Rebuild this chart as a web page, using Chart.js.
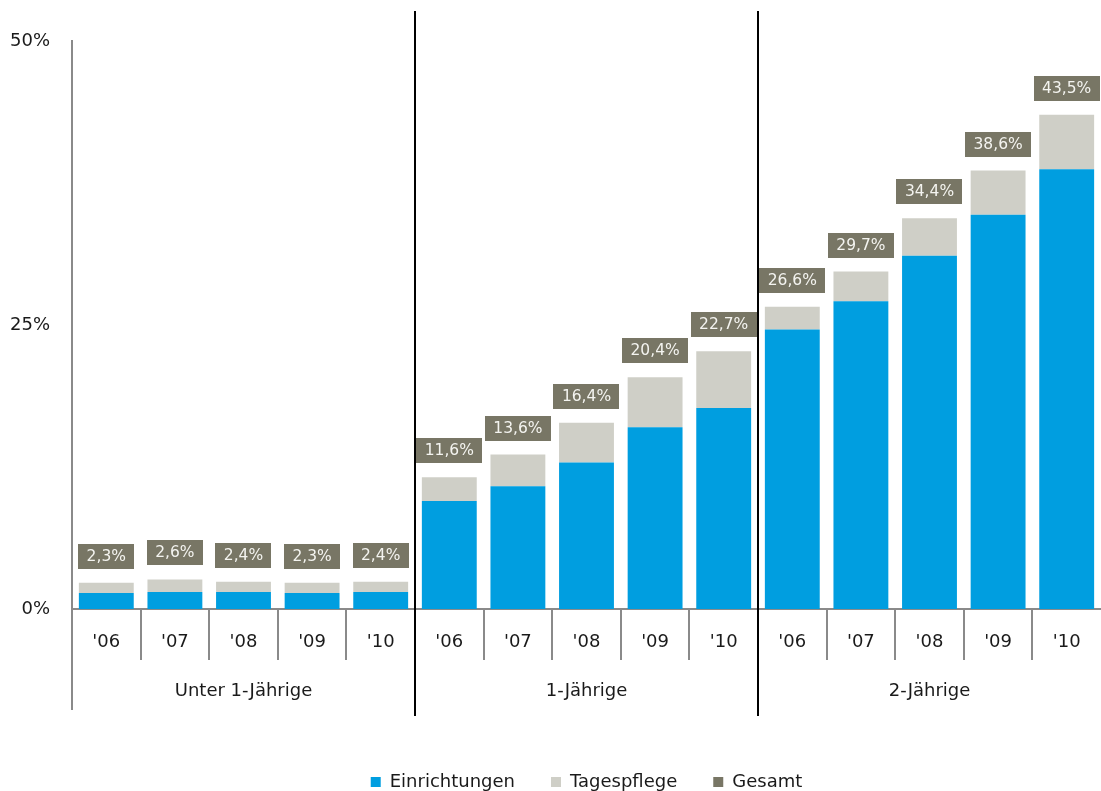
<!DOCTYPE html>
<html>
<head>
<meta charset="utf-8">
<script src="https://cdn.jsdelivr.net/npm/chart.js@4.4.1/dist/chart.umd.min.js"></script>
<style>
  html, body { margin: 0; padding: 0; background: #fff; }
  #wrap { width: 1101px; height: 791px; }
</style>
</head>
<body>
<div id="wrap"><canvas id="chart"></canvas></div>
<script>
// Data
const years = ["'06", "'07", "'08", "'09", "'10", "'06", "'07", "'08", "'09", "'10", "'06", "'07", "'08", "'09", "'10"];
const groups = ['Unter 1-Jährige', '1-Jährige', '2-Jährige'];
const einrichtungen = [1.4, 1.5, 1.5, 1.4, 1.5, 9.5, 10.8, 12.9, 16.0, 17.7, 24.6, 27.1, 31.1, 34.7, 38.7];
const tagespflege = [0.9, 1.1, 0.9, 0.9, 0.9, 2.1, 2.8, 3.5, 4.4, 5.0, 2.0, 2.6, 3.3, 3.9, 4.8];
const gesamt = [2.3, 2.6, 2.4, 2.3, 2.4, 11.6, 13.6, 16.4, 20.4, 22.7, 26.6, 29.7, 34.4, 38.6, 43.5];
const yTicks = [0, 25, 50];

const BLUE = '#009ee0';
const LIGHT = '#cfcfc7';
const OLIVE = '#787665';
const AXIS = '#8a8a8a';
const FONT = '"DejaVu Sans", Verdana, sans-serif';

// Draws the grouped axis, dividers and total labels
const groupPlugin = {
    id: 'groupAxis',
    afterDraw(chart) {
        const ctx = chart.ctx;
        const x = chart.scales.x;
        const y = chart.scales.y;
        const area = chart.chartArea;
        const half = (x.getPixelForValue(1) - x.getPixelForValue(0)) / 2;

        ctx.save();
        // year separators
        ctx.strokeStyle = AXIS;
        ctx.lineWidth = 2;
        for (let i = 1; i < years.length; i++) {
            if (i % 5 === 0) continue;
            const px = Math.round(x.getPixelForValue(i) - half);
            ctx.beginPath();
            ctx.moveTo(px, area.bottom);
            ctx.lineTo(px, area.bottom + 51);
            ctx.stroke();
        }
        // y axis extension
        ctx.beginPath();
        ctx.moveTo(area.left, area.bottom);
        ctx.lineTo(area.left, area.bottom + 101);
        ctx.stroke();

        // group dividers
        ctx.strokeStyle = '#000';
        ctx.lineWidth = 2;
        [5, 10].forEach(function (i) {
            const px = Math.round(x.getPixelForValue(i) - half);
            ctx.beginPath();
            ctx.moveTo(px, 11);
            ctx.lineTo(px, area.bottom + 107);
            ctx.stroke();
        });

        // group labels
        ctx.fillStyle = '#1a1a1a';
        ctx.font = '18px ' + FONT;
        ctx.textAlign = 'center';
        ctx.textBaseline = 'middle';
        groups.forEach(function (g, k) {
            const cx = (x.getPixelForValue(k * 5) + x.getPixelForValue(k * 5 + 4)) / 2;
            ctx.fillText(g, cx, area.bottom + 82);
        });

        // total labels
        ctx.font = '15.5px ' + FONT;
        gesamt.forEach(function (v, i) {
            const txt = v.toFixed(1).replace('.', ',') + '%';
            const w = ctx.measureText(txt).width + 17;
            const cx = x.getPixelForValue(i);
            const bottom = y.getPixelForValue(v) - 14;
            ctx.fillStyle = OLIVE;
            ctx.fillRect(Math.round(cx - w / 2), Math.round(bottom - 25), Math.round(w), 25);
            ctx.fillStyle = '#f4f4f0';
            ctx.fillText(txt, cx, bottom - 12);
        });
        ctx.restore();
    }
};

const ctx = document.getElementById('chart').getContext('2d');
new Chart(ctx, {
    type: 'bar',
    data: {
        labels: years,
        datasets: [{
            label: 'Einrichtungen',
            data: einrichtungen,
            backgroundColor: BLUE,
            borderWidth: 0
        }, {
            label: 'Tagespflege',
            data: tagespflege,
            backgroundColor: LIGHT,
            borderWidth: 0
        }, {
            label: 'Gesamt',
            data: [],
            backgroundColor: OLIVE,
            borderWidth: 0
        }]
    },
    options: {
        responsive: true,
        maintainAspectRatio: false,
        animation: false,
        layout: { padding: { top: 41, right: -3, left: 0, bottom: -10 } },
        datasets: { bar: { categoryPercentage: 1, barPercentage: 0.8 } },
        plugins: {
            tooltip: { enabled: false },
            legend: {
                position: 'bottom',
                fullSize: false,
                labels: {
                    boxWidth: 10,
                    boxHeight: 10,
                    padding: 36,
                    color: '#1a1a1a',
                    font: { family: FONT, size: 18 }
                }
            }
        },
        scales: {
            x: {
                stacked: true,
                grid: { display: false },
                border: { color: AXIS, width: 2 },
                ticks: {
                    color: '#1a1a1a',
                    padding: 15,
                    maxRotation: 0,
                    autoSkip: false,
                    font: { family: FONT, size: 18 }
                },
                afterFit: function (scale) { scale.height = 128; }
            },
            y: {
                stacked: true,
                min: 0,
                max: 50,
                grid: { display: false, drawTicks: false },
                border: { color: AXIS, width: 2 },
                afterBuildTicks: function (scale) {
                    scale.ticks = yTicks.map(function (v) { return { value: v }; });
                },
                ticks: {
                    color: '#1a1a1a',
                    padding: 22,
                    font: { family: FONT, size: 18 },
                    callback: function (v) { return v + '%'; }
                },
                afterFit: function (scale) { scale.width = 72; }
            }
        }
    },
    plugins: [groupPlugin]
});
</script>
</body>
</html>
